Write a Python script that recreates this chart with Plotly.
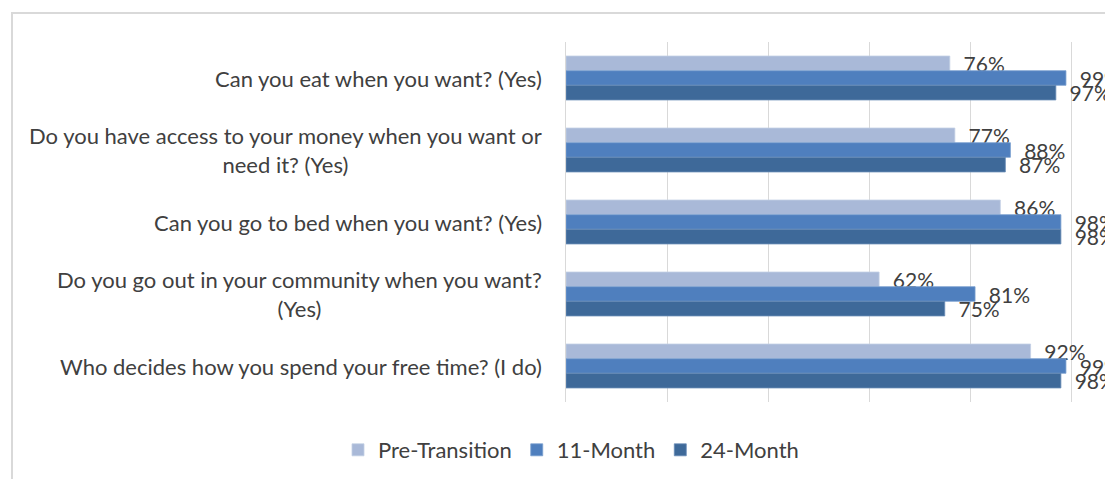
import plotly.graph_objects as go

categories = [
    "Can you eat when you want? (Yes)",
    "Do you have access to your money when you want or<br>need it? (Yes)",
    "Can you go to bed when you want? (Yes)",
    "Do you go out in your community when you want?<br>(Yes)",
    "Who decides how you spend your free time? (I do)",
]
series_names = ["Pre-Transition", "11-Month", "24-Month"]
pre_transition = [0.76, 0.77, 0.86, 0.62, 0.92]
month_11 = [0.99, 0.88, 0.98, 0.81, 0.99]
month_24 = [0.97, 0.87, 0.98, 0.75, 0.98]
x_ticks = [0, 0.2, 0.4, 0.6, 0.8, 1.0]

colors = ["#A9B9D8", "#4F7FBE", "#3E6999"]
line_colors = ["#C3CFE5", "#7A9FCF", "#6A8DB8"]
FONT = "Lato"
TXT = "#404040"

OFF = 8  # page body margin offset
W, H = 1113, 471
ML, MT = 566 - OFF, 42 - OFF
PH = 360
MR = 0
MB = H - MT - PH
PW = W - ML - MR

fig = go.Figure()
for name, vals, c, lc in zip(series_names, [pre_transition, month_11, month_24], colors, line_colors):
    fig.add_trace(go.Bar(
        y=categories, x=vals, name=name, orientation="h",
        marker=dict(color=c, line=dict(color=lc, width=0.8)),
        text=["\u00a0\u00a0" + f"{round(v*100)}%" for v in vals],
        textposition="outside", constraintext="none", cliponaxis=False,
        textfont=dict(family=FONT, size=21, color=TXT),
        hoverinfo="skip",
    ))

# category labels (centered multi-line, right aligned block)
for cat in categories:
    fig.add_annotation(
        x=0, xref="paper", y=cat, yref="y", xanchor="right", yanchor="middle",
        xshift=-22, text=cat, showarrow=False, align="center",
        font=dict(family=FONT, size=22, color=TXT),
    )

def px_x(p):
    return (p - OFF - ML) / PW
def px_y(p):
    return (MT + PH - (p - OFF)) / PH

fig.add_shape(type="rect", xref="paper", yref="paper",
              x0=px_x(12), x1=px_x(1140), y0=px_y(500), y1=px_y(13),
              line=dict(color="#D9D9D9", width=2), fillcolor="rgba(0,0,0,0)", layer="below")

fig.update_layout(
    width=W, height=H,
    margin=dict(l=ML, r=MR, t=MT, b=MB, pad=0),
    paper_bgcolor="white", plot_bgcolor="white",
    barmode="group", bargap=0.39, bargroupgap=0,
    font=dict(family=FONT, size=22, color=TXT),
    showlegend=True,
    legend=dict(orientation="h", x=px_x(571), xanchor="center", y=px_y(450), yanchor="middle",
                font=dict(family=FONT, size=22, color=TXT), traceorder="normal",
                itemwidth=30, bgcolor="rgba(0,0,0,0)"),
    xaxis=dict(range=[0, PW / 505.0], tickvals=x_ticks, showticklabels=False,
               showgrid=True, gridcolor="#D9D9D9", gridwidth=1, zeroline=False,
               showline=False, fixedrange=True),
    yaxis=dict(autorange="reversed", showticklabels=False, showgrid=False,
               showline=True, linecolor="#D9D9D9", linewidth=1, zeroline=False,
               ticks="", fixedrange=True),
)

fig.write_html("out.html")
